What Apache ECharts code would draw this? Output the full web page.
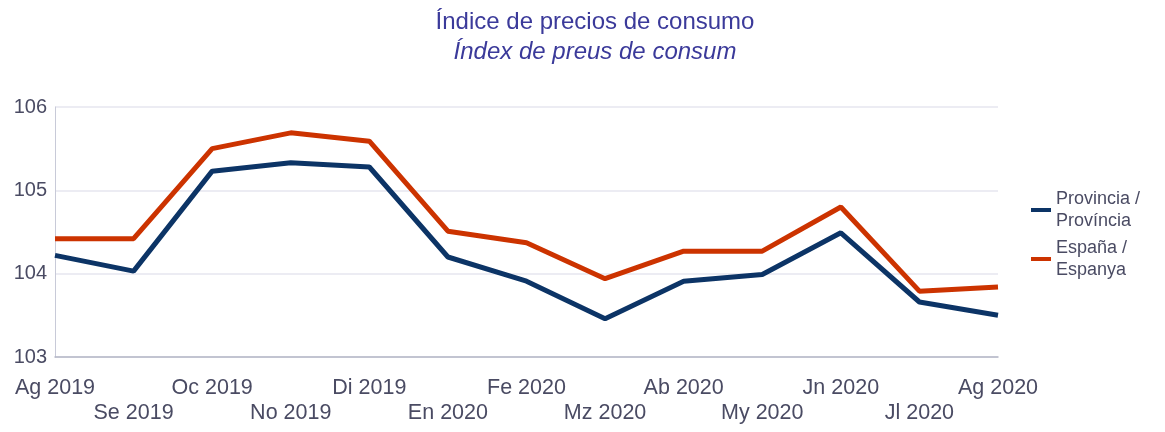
<!DOCTYPE html>
<html>
<head>
<meta charset="utf-8">
<script src="https://cdn.jsdelivr.net/npm/echarts@6/dist/echarts.min.js"></script>
<style>
  html, body { margin: 0; padding: 0; background: #fff; }
  #chart { width: 1165px; height: 432px; }
</style>
</head>
<body>
<div id="chart"></div>
<script>
// months, Aug 2019 - Aug 2020
const months = ['Ag 2019', 'Se 2019', 'Oc 2019', 'No 2019', 'Di 2019', 'En 2020', 'Fe 2020',
  'Mz 2020', 'Ab 2020', 'My 2020', 'Jn 2020', 'Jl 2020', 'Ag 2020'];
const provincia = [104.22, 104.03, 105.23, 105.33, 105.28, 104.2, 103.91, 103.46, 103.91, 103.99, 104.49, 103.66, 103.5];
const espana = [104.42, 104.42, 105.5, 105.69, 105.59, 104.51, 104.37, 103.94, 104.27, 104.27, 104.8, 103.79, 103.84];

const chart = echarts.init(document.getElementById('chart'));

const textColor = '#4a4b63';

const option = {
  backgroundColor: '#ffffff',
  animation: false,
  textStyle: { fontFamily: 'Liberation Sans, Arial, sans-serif' },
  title: {
    text: 'Índice de precios de consumo',
    subtext: 'Índex de preus de consum',
    top: 5,
    left: 590,
    textAlign: 'center',
    itemGap: 6,
    textStyle: { color: '#3b3a9a', fontSize: 24, fontWeight: 'normal' },
    subtextStyle: { color: '#3b3a9a', fontSize: 24, fontStyle: 'italic' }
  },
  legend: {
    orient: 'vertical',
    left: 1026,
    top: 183,
    itemWidth: 20,
    itemHeight: 4,
    itemGap: 5,
    icon: 'rect',
    textStyle: { color: textColor, fontSize: 18, lineHeight: 22 },
    data: ['Provincia /\nProvíncia', 'España /\nEspanya']
  },
  grid: { left: 55, right: 167, top: 107, bottom: 75 },
  xAxis: {
    type: 'category',
    data: months,
    boundaryGap: false,
    axisLine: { lineStyle: { color: '#b4b6c6', width: 1.5 } },
    axisTick: { show: false },
    axisLabel: {
      interval: 0,
      color: textColor,
      fontSize: 21.5,
      margin: 19,
      lineHeight: 25,
      formatter: (v, i) => (i % 2 === 1 ? '\n' + v : v)
    }
  },
  yAxis: {
    type: 'value',
    min: 103,
    max: 106,
    interval: 1,
    axisLine: { show: true, lineStyle: { color: '#c8cad8' } },
    axisLabel: { color: textColor, fontSize: 20, margin: 8 },
    splitLine: { lineStyle: { color: '#e6e6ef', width: 1.5 } }
  },
  series: [
    {
      name: 'Provincia /\nProvíncia',
      type: 'line',
      data: provincia,
      symbol: 'none',
      color: '#0c3466',
      lineStyle: { width: 5 }
    },
    {
      name: 'España /\nEspanya',
      type: 'line',
      data: espana,
      symbol: 'none',
      color: '#cc3300',
      lineStyle: { width: 5 }
    }
  ]
};

chart.setOption(option);
</script>
</body>
</html>
